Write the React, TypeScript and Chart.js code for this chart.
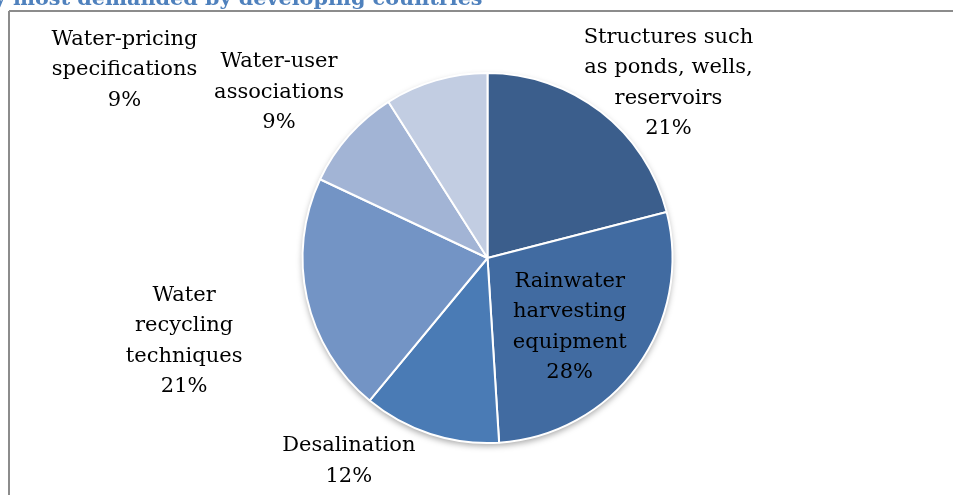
import React, { useEffect, useRef } from "react";
import { Chart, registerables } from "chart.js";

Chart.register(...registerables);

const categories: string[][] = [
  ["Structures such", "as ponds, wells,", "reservoirs"],
  ["Rainwater", "harvesting", "equipment"],
  ["Desalination"],
  ["Water", "recycling", "techniques"],
  ["Water-user", "associations"],
  ["Water-pricing", "specifications"],
];
const shares: number[] = [21, 28, 12, 21, 9, 9];
const sliceColors: string[] = ["#3B5E8C", "#416BA1", "#4A7BB5", "#7394C5", "#A2B4D5", "#C2CDE2"];
const titleText = "y most demanded by developing countries";

// label placement (style): radius factor and angle (deg, canvas coords) from pie centre
const labelRadius: number[] = [1.36, 0.58, 1.33, 1.7, 1.44, 2.21];
const labelAngle: number[] = [-44, 40, 124.3, 164.7, -141.5, -152.6];

const decorPlugin = {
  id: "decor",
  beforeDraw(chart: any) {
    const ctx = chart.ctx;
    ctx.save();
    ctx.fillStyle = "#ffffff";
    ctx.fillRect(0, 0, chart.width, chart.height);
    ctx.strokeStyle = "#8c8c8c";
    ctx.lineWidth = 2;
    ctx.beginPath();
    ctx.moveTo(9, 11);
    ctx.lineTo(chart.width + 2, 11);
    ctx.moveTo(9, 11);
    ctx.lineTo(9, chart.height + 2);
    ctx.stroke();
    // title (clipped at top)
    ctx.fillStyle = "#4F81BD";
    ctx.font = "bold 20px 'DejaVu Serif'";
    const base = ctx.measureText("most demanded by developing countries").width;
    const size = (20 * 470) / base;
    ctx.font = `bold ${size}px 'DejaVu Serif'`;
    const pre = ctx.measureText("y ").width;
    ctx.textBaseline = "alphabetic";
    ctx.textAlign = "left";
    ctx.fillText(titleText, 13 - pre, 5);
    ctx.restore();
  },
  beforeDatasetsDraw(chart: any) {
    const meta = chart.getDatasetMeta(0);
    const arc = meta.data[0];
    if (!arc) return;
    const { x, y, outerRadius } = arc.getProps(["x", "y", "outerRadius"], true);
    const ctx = chart.ctx;
    ctx.save();
    ctx.shadowColor = "rgba(0,0,0,0.35)";
    ctx.shadowBlur = 6;
    ctx.shadowOffsetY = 3;
    ctx.fillStyle = "#ffffff";
    ctx.beginPath();
    ctx.arc(x, y, outerRadius, 0, Math.PI * 2);
    ctx.fill();
    ctx.restore();
  },
  afterDatasetsDraw(chart: any) {
    const meta = chart.getDatasetMeta(0);
    const ctx = chart.ctx;
    ctx.save();
    ctx.font = "21px 'DejaVu Serif'";
    ctx.fillStyle = "#000000";
    ctx.textAlign = "center";
    ctx.textBaseline = "middle";
    const lh = 30.5;
    meta.data.forEach((el: any, i: number) => {
      const { x, y, outerRadius } = el.getProps(["x", "y", "outerRadius"], true);
      const a = (labelAngle[i] * Math.PI) / 180;
      const cx = x + Math.cos(a) * outerRadius * labelRadius[i];
      const cy = y + Math.sin(a) * outerRadius * labelRadius[i];
      const lines = [...categories[i], shares[i] + "%"];
      const top = cy - ((lines.length - 1) * lh) / 2;
      lines.forEach((t, j) => ctx.fillText(t, cx, top + j * lh));
    });
    ctx.restore();
  },
};

export default function App() {
  const ref = useRef<HTMLCanvasElement | null>(null);
  useEffect(() => {
    if (!ref.current) return;
    const chart = new Chart(ref.current, {
      type: "pie",
      data: {
        labels: categories.map((c) => c.join(" ")),
        datasets: [
          {
            data: shares,
            backgroundColor: sliceColors,
            borderColor: "#ffffff",
            borderWidth: 2,
          },
        ],
      },
      options: {
        animation: false,
        responsive: true,
        maintainAspectRatio: false,
        layout: { padding: { left: 301, right: 279, top: 72, bottom: 51 } },
        plugins: {
          legend: { display: false },
          tooltip: { enabled: false },
          title: { display: false },
        },
      },
      plugins: [decorPlugin],
    });
    return () => chart.destroy();
  }, []);
  return (
    <div style={{ position: "fixed", left: 0, top: 0, width: 953, height: 495, background: "#fff" }}>
      <canvas ref={ref} />
    </div>
  );
}
